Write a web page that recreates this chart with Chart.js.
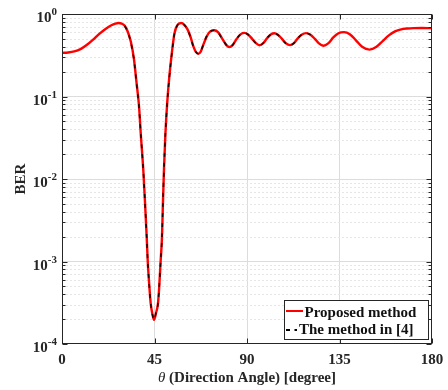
<!DOCTYPE html>
<html>
<head>
<meta charset="utf-8">
<script src="https://cdn.jsdelivr.net/npm/chart.js@4.4.1/dist/chart.umd.min.js"></script>
<style>
html,body{margin:0;padding:0;background:#fff;}
canvas{display:block;}
</style>
</head>
<body>
<canvas id="c" width="448" height="390"></canvas>
<script>
// ---- data ----
const theta = [0,3,6,9,12,15,18,21,24,26,27.5,29,30.5,32,33.5,35,36.3,37.4,
  38.4,39.55,40.4,41.2,41.7,42.5,43.15,43.9,44.75,45.7,46.7,47.3,48.0,48.65,49.1,49.6,50.3,51.2,
  52.2,53.4,54.7,56.1,57.9,59.5,61,62.5,64,65.2,66.3,67.5,69,70.5,72,74,76,78,80,81.4,83,85,87,88.7,90.5,92.5,94.5,96.1,97.8,99.8,101.6,103.3,105,107,109,110.9,112.7,114.8,116.8,118.7,120.7,123,125,127.2,129.5,132,134.5,137.2,140,143,146,149.6,153,156,159,162,165,168,171,175,180];

const berProposed = [0.338,0.342,0.352,0.375,0.42,0.485,0.57,0.655,0.73,0.765,0.778,0.765,0.72,0.61,0.46,0.285,0.144,0.08,
  0.033,0.0128,0.0051,0.002,0.00102,0.000495,0.00031,0.000236,0.000196,0.000236,0.00031,0.000495,0.00102,0.002,0.0051,0.0128,0.035,0.085,
  0.173,0.33,0.58,0.73,0.778,0.74,0.655,0.53,0.4,0.345,0.33,0.35,0.44,0.54,0.61,0.635,0.6,0.5,0.42,0.398,0.42,0.5,0.57,0.59,0.565,0.5,0.44,0.418,0.44,0.51,0.565,0.584,0.56,0.5,0.44,0.42,0.44,0.51,0.565,0.587,0.565,0.5,0.44,0.413,0.44,0.52,0.585,0.603,0.57,0.48,0.4,0.37,0.4,0.47,0.55,0.615,0.652,0.668,0.675,0.676,0.674];

const berRef4 = [0.338,0.342,0.352,0.375,0.42,0.485,0.57,0.655,0.73,0.765,0.778,0.765,0.715,0.6,0.45,0.28,0.14,0.078,
  0.033,0.0128,0.0051,0.002,0.00102,0.000495,0.00031,0.000236,0.000196,0.000236,0.00031,0.000495,0.00102,0.002,0.0051,0.0128,0.035,0.085,
  0.168,0.325,0.575,0.73,0.778,0.737,0.65,0.525,0.395,0.345,0.33,0.35,0.445,0.545,0.61,0.635,0.595,0.495,0.42,0.398,0.42,0.505,0.572,0.59,0.562,0.495,0.437,0.418,0.442,0.515,0.565,0.584,0.557,0.495,0.437,0.42,0.44,0.512,0.567,0.587,0.562,0.497,0.44,0.413,0.44,0.52,0.585,0.603,0.57,0.48,0.4,0.37,0.4,0.47,0.55,0.615,0.652,0.668,0.675,0.676,0.674];

const xTicks = [0,45,90,135,180];
const yDecades = [-4,-3,-2,-1,0];
const legendLabels = ['Proposed method','The method in [4]'];
const xTitleSymbol = 'θ';
const xTitleRest = ' (Direction Angle) [degree]';
const yTitle = 'BER';

// ---- chart ----
const SERIF = '"Liberation Serif","Times New Roman",serif';
const AX = '#262626';

function pts(ys){ return theta.map((t,i)=>({x:t,y:ys[i]})); }
function isDecade(v){ const l=Math.log10(v); return Math.abs(l-Math.round(l))<1e-9; }

const axesPlugin = {
  id:'matlabAxes',
  beforeDatasetsDraw(chart){
    const ctx=chart.ctx, a=chart.chartArea, ys=chart.scales.y;
    ctx.save();
    ctx.strokeStyle='#e6e6e6'; ctx.lineWidth=1; ctx.setLineDash([2,2]);
    ys.ticks.forEach(t=>{
      if(isDecade(t.value)) return;
      const py=Math.round(ys.getPixelForValue(t.value))+0.5;
      ctx.beginPath(); ctx.moveTo(a.left,py); ctx.lineTo(a.right,py); ctx.stroke();
    });
    ctx.restore();
  },
  afterDatasetsDraw(chart){
    const ctx=chart.ctx, a=chart.chartArea, xs=chart.scales.x, ys=chart.scales.y;
    ctx.save();
    ctx.strokeStyle=AX; ctx.lineWidth=1; ctx.setLineDash([]);
    const L=Math.round(a.left)+0.5, R=Math.round(a.right)-0.5, T=Math.round(a.top)+0.5, B=Math.round(a.bottom)-0.5;
    ctx.strokeRect(L,T,R-L,B-T);
    ys.ticks.forEach(t=>{
      const py=Math.round(ys.getPixelForValue(t.value))+0.5;
      const len=isDecade(t.value)?5:3;
      ctx.beginPath(); ctx.moveTo(L,py); ctx.lineTo(L+len,py); ctx.moveTo(R,py); ctx.lineTo(R-len,py); ctx.stroke();
    });
    xs.ticks.forEach(t=>{
      const px=Math.round(xs.getPixelForValue(t.value))+0.5;
      ctx.beginPath(); ctx.moveTo(px,B); ctx.lineTo(px,B-5); ctx.moveTo(px,T); ctx.lineTo(px,T+5); ctx.stroke();
    });
    ctx.fillStyle=AX; ctx.textBaseline='alphabetic';
    yDecades.forEach(e=>{
      const py=ys.getPixelForValue(Math.pow(10,e));
      const sup=String(e);
      ctx.font='bold 11px '+SERIF;
      const wSup=ctx.measureText(sup).width;
      ctx.textAlign='right';
      ctx.fillText(sup,57,py+1);
      ctx.font='bold 15px '+SERIF;
      ctx.fillText('10',57-wSup,py+8);
    });
    ctx.font='bold 15px '+SERIF; ctx.textAlign='center';
    xs.ticks.forEach(t=>{
      ctx.fillText(String(t.value), xs.getPixelForValue(t.value), 363.5);
    });
    ctx.font='italic 15px '+SERIF;
    const w1=ctx.measureText(xTitleSymbol).width;
    ctx.font='bold 15px '+SERIF;
    const w2=ctx.measureText(xTitleRest).width;
    const cx=(a.left+a.right)/2, x0=cx-(w1+w2)/2;
    ctx.textAlign='left';
    ctx.font='italic 15px '+SERIF; ctx.fillText(xTitleSymbol,x0,382);
    ctx.font='bold 15px '+SERIF; ctx.fillText(xTitleRest,x0+w1,382);
    ctx.save();
    ctx.translate(25,(a.top+a.bottom)/2);
    ctx.rotate(-Math.PI/2);
    ctx.textAlign='center'; ctx.font='bold 15px '+SERIF;
    ctx.fillText(yTitle,0,0);
    ctx.restore();
    // legend
    const lx=284.5, ly=300.5, lw=144, lh=39;
    ctx.fillStyle='#fff'; ctx.fillRect(lx,ly,lw,lh);
    ctx.strokeStyle=AX; ctx.lineWidth=1; ctx.strokeRect(lx,ly,lw,lh);
    ctx.lineWidth=2;
    ctx.strokeStyle='#ff0000';
    ctx.beginPath(); ctx.moveTo(286,311); ctx.lineTo(303,311); ctx.stroke();
    ctx.strokeStyle='#000';
    ctx.beginPath(); ctx.moveTo(286,330); ctx.lineTo(290,330); ctx.moveTo(294.5,330); ctx.lineTo(297,330); ctx.stroke();
    ctx.fillStyle='#111'; ctx.font='bold 15px '+SERIF; ctx.textAlign='left';
    ctx.fillText(legendLabels[0],304.5,316.5);
    ctx.fillText(legendLabels[1],299,334);
    ctx.restore();
  }
};

new Chart(document.getElementById('c'),{
  type:'line',
  data:{datasets:[
    {label:legendLabels[1],data:pts(berRef4),borderColor:'#000000',borderWidth:1.6,borderDash:[4,6],pointRadius:0,cubicInterpolationMode:'monotone',fill:false,
      segment:{borderColor:(c)=> (c.p0.parsed.x>=30.5 && c.p1.parsed.x<=123) ? 'rgba(0,0,0,0.85)' : 'rgba(0,0,0,0)'}},
    {label:legendLabels[0],data:pts(berProposed),borderColor:'#ff0000',borderWidth:2.4,pointRadius:0,cubicInterpolationMode:'monotone',fill:false}
  ]},
  options:{
    responsive:false, animation:false, devicePixelRatio:1,
    layout:{padding:{top:14,right:16,left:0,bottom:0}},
    plugins:{legend:{display:false},tooltip:{enabled:false}},
    scales:{
      x:{type:'linear',min:0,max:180,
        afterBuildTicks(s){ s.ticks = xTicks.map(v=>({value:v})); },
        ticks:{display:false},
        grid:{color:(c)=> (c.tick && (c.tick.value===0||c.tick.value===180))?'rgba(0,0,0,0)':'#dcdcdc',drawTicks:false},
        border:{display:false},
        afterFit(s){ s.height=46; }
      },
      y:{type:'logarithmic',min:1e-4,max:1,
        afterBuildTicks(s){
          const t=[];
          yDecades.forEach(e=>{ const n=e===0?1:9; for(let d=1;d<=n;d++) t.push({value:d*Math.pow(10,e)}); });
          s.ticks=t;
        },
        ticks:{display:false},
        grid:{color:(c)=> (c.tick && isDecade(c.tick.value) && c.tick.value!==1 && c.tick.value!==1e-4)?'#dcdcdc':'rgba(0,0,0,0)',drawTicks:false},
        border:{display:false},
        afterFit(s){ s.width=62; }
      }
    }
  },
  plugins:[axesPlugin]
});
</script>
</body>
</html>
